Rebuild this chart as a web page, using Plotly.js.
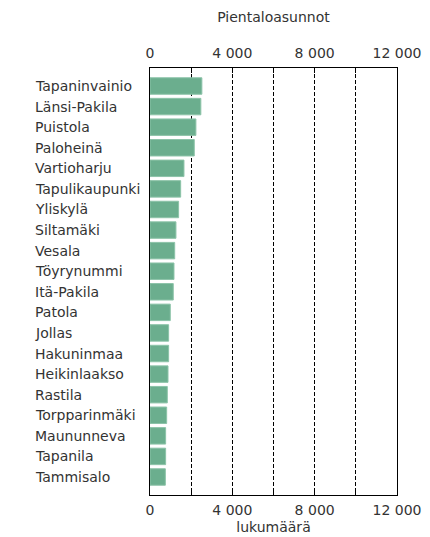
<!DOCTYPE html>
<html>
<head>
<meta charset="utf-8">
<script src="https://cdn.plot.ly/plotly-3.0.1.min.js"></script>
<style>html,body{margin:0;padding:0;background:#fff;}#chart{width:430px;height:537px;}</style>
</head>
<body>
<div id="chart"></div>
<script>
const categories = ["Tapaninvainio","Länsi-Pakila","Puistola","Paloheinä","Vartioharju","Tapulikaupunki","Yliskylä","Siltamäki","Vesala","Töyrynummi","Itä-Pakila","Patola","Jollas","Hakuninmaa","Heikinlaakso","Rastila","Torpparinmäki","Maununneva","Tapanila","Tammisalo"];
const values = [2520,2470,2230,2150,1650,1490,1390,1260,1200,1165,1130,985,905,905,875,840,810,760,760,745];
const tickValues = [0,2000,4000,6000,8000,10000,12000];
const tickLabels = ["0","","4 000","","8 000","","12 000"];
const xTitle = "lukumäärä";
const topTitle = "Pientaloasunnot";

const font = {family: "DejaVu Sans, Verdana, sans-serif", size: 14, color: "#333"};

const trace = {
  type: "bar",
  orientation: "h",
  x: values,
  y: categories,
  marker: {color: "#6bae8e", line: {color: "#8cc3a8", width: 1}},
  hoverinfo: "x+y"
};

const annotations = categories.map(c => ({
  xref: "paper", yref: "y",
  x: -0.472, y: c,
  xanchor: "left", yanchor: "middle",
  text: c, showarrow: false,
  font: font
}));

const axisCommon = {
  range: [0, 12000],
  tickmode: "array",
  tickvals: tickValues,
  ticktext: tickLabels,
  ticks: "inside",
  ticklen: 5,
  tickcolor: "#000",
  showline: true,
  linecolor: "#000",
  linewidth: 1,
  tickfont: font,
  zeroline: false
};

const layout = {
  width: 430, height: 537,
  margin: {l: 149.5, r: 33, t: 68, b: 42, pad: 0},
  paper_bgcolor: "#fff",
  plot_bgcolor: "#fff",
  font: font,
  showlegend: false,
  bargap: 0.2,
  xaxis: Object.assign({}, axisCommon, {
    side: "bottom",
    mirror: true,
    showgrid: true,
    gridcolor: "#000",
    gridwidth: 1,
    griddash: "4px,2px",
    ticklabelstandoff: 2,
    title: {text: xTitle, font: font, standoff: 5}
  }),
  xaxis2: Object.assign({}, axisCommon, {
    overlaying: "x",
    matches: "x",
    anchor: "y",
    side: "top",
    showgrid: false,
    ticklabelstandoff: 3,
    title: {text: topTitle, font: font, standoff: 19}
  }),
  yaxis: {
    range: [19.875, -0.875],
    autorange: false,
    showline: true,
    mirror: true,
    linecolor: "#000",
    linewidth: 1,
    ticks: "",
    showticklabels: false,
    showgrid: false,
    zeroline: false
  },
  annotations: annotations
};

const ghost = {
  type: "scatter", mode: "markers",
  x: [], y: [],
  xaxis: "x2", yaxis: "y",
  hoverinfo: "skip", showlegend: false
};

Plotly.newPlot("chart", [trace, ghost], layout, {displayModeBar: false, staticPlot: true});
</script>
</body>
</html>
